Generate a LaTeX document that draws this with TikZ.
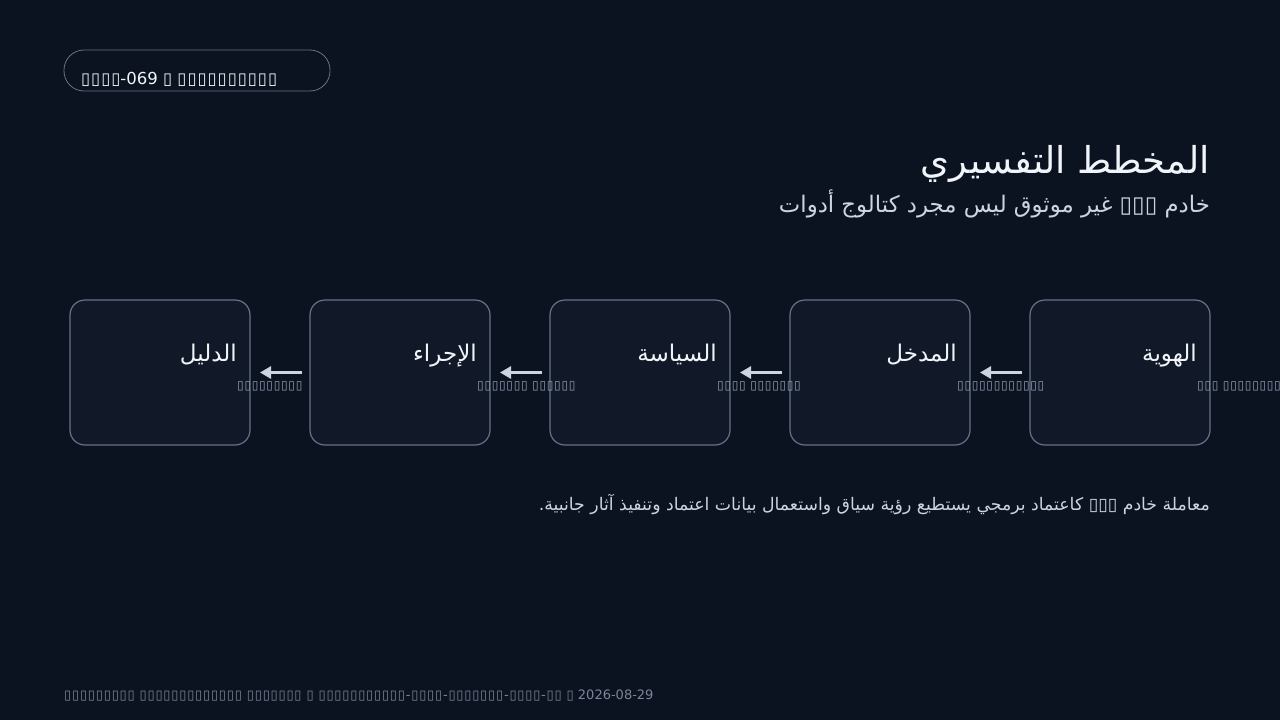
\documentclass[tikz,border=0pt]{standalone}
\usepackage{fontspec}
\setmainfont{DejaVu Sans}
\newfontfamily\arabicfont[Script=Arabic]{DejaVu Sans}
\newfontfamily\tofufont[LetterSpace=6]{DejaVu Sans}
\TeXXeTstate=1
\usetikzlibrary{positioning,arrows.meta}
\definecolor{pagebg}{HTML}{0B1220}
\definecolor{boxfill}{HTML}{111827}
\definecolor{boxline}{HTML}{64748B}
\definecolor{arrowgray}{HTML}{CBD5E1}
\definecolor{titlewhite}{HTML}{F1F5F9}
\definecolor{softgray}{HTML}{CBD5E1}
\definecolor{notegray}{HTML}{94A3B8}
\definecolor{footgray}{HTML}{7D8799}
\tikzstyle{flowarrow} = [line width=3.5pt,-{Triangle[length=11pt,width=12pt]},color=arrowgray,shorten <=8pt,shorten >=10pt]
\newcommand{\tf}[1]{{\tofufont #1}}

\begin{document}
\begin{tikzpicture}[x=1pt,y=-1pt,
    stagebox/.style={shape=rectangle,draw=boxline,fill=boxfill,line width=1.2pt,rounded corners=15pt,minimum width=180pt,minimum height=145pt,outer sep=0pt},
    stagetitle/.style={inner sep=0pt,text=titlewhite,font=\fontsize{23}{27}\selectfont},
    stagenote/.style={inner sep=0pt,text=notegray,font=\fontsize{12}{14}\selectfont},
    plaintext/.style={inner sep=0pt}]
    \fill[pagebg] (0,0) rectangle (1280,720);
    \useasboundingbox (0,0) rectangle (1280,720);
    % header
    \node (tag) [draw=boxline,line width=0.8pt,rounded corners=20pt,minimum width=266pt,minimum height=41pt] at (197,70.5) {};
    \node (tagtext) [plaintext,anchor=base west,text=titlewhite,font=\fontsize{16.5}{19}\selectfont] at (81,84) {\tf{▯▯▯▯}-069 \tf{▯} \tf{▯▯▯▯▯▯▯▯▯▯}};
    \node (title) [plaintext,anchor=base east,text=titlewhite,font=\fontsize{37}{44}\selectfont] at (1210,173) {\arabicfont\beginR المخطط التفسيري\endR};
    \node (subtitle) [plaintext,anchor=base east,text=softgray,font=\fontsize{22.8}{27}\selectfont] at (1210,212) {\arabicfont\beginR خادم ▯▯▯ غير موثوق ليس مجرد كتالوج أدوات\endR};
    % create the nodes
    \node (b1) [stagebox] at (160,372.5) {};
    \node (b2) [stagebox, right=60pt of b1] {};
    \node (b3) [stagebox, right=60pt of b2] {};
    \node (b4) [stagebox, right=60pt of b3] {};
    \node (b5) [stagebox, right=60pt of b4] {};
    \node (t1) [stagetitle, anchor=base east] at ([xshift=-13pt,yshift=11.5pt]b1.east) {\arabicfont\beginR الدليل\endR};
    \node (t2) [stagetitle, anchor=base east] at ([xshift=-13pt,yshift=11.5pt]b2.east) {\arabicfont\beginR الإجراء\endR};
    \node (t3) [stagetitle, anchor=base east] at ([xshift=-13pt,yshift=11.5pt]b3.east) {\arabicfont\beginR السياسة\endR};
    \node (t4) [stagetitle, anchor=base east] at ([xshift=-13pt,yshift=11.5pt]b4.east) {\arabicfont\beginR المدخل\endR};
    \node (t5) [stagetitle, anchor=base east] at ([xshift=-13pt,yshift=11.5pt]b5.east) {\arabicfont\beginR الهوية\endR};
    \node (s1) [stagenote, anchor=base west] at ([xshift=-13pt,yshift=-17pt]b1.east) {\tf{▯▯▯▯▯▯▯▯▯}};
    \node (s2) [stagenote, anchor=base west] at ([xshift=-13pt,yshift=-17pt]b2.east) {\tf{▯▯▯▯▯▯▯ ▯▯▯▯▯▯}};
    \node (s3) [stagenote, anchor=base west] at ([xshift=-13pt,yshift=-17pt]b3.east) {\tf{▯▯▯▯ ▯▯▯▯▯▯▯}};
    \node (s4) [stagenote, anchor=base west] at ([xshift=-13pt,yshift=-17pt]b4.east) {\tf{▯▯▯▯▯▯▯▯▯▯▯▯}};
    \node (s5) [stagenote, anchor=base west] at ([xshift=-13pt,yshift=-17pt]b5.east) {\tf{▯▯▯ ▯▯▯▯▯▯▯▯▯}};
    % connect the nodes
    \draw[flowarrow] (b5.west) -- (b4.east);
    \draw[flowarrow] (b4.west) -- (b3.east);
    \draw[flowarrow] (b3.west) -- (b2.east);
    \draw[flowarrow] (b2.west) -- (b1.east);
    % note and footer
    \node (note) [plaintext,anchor=base east,text=softgray,font=\fontsize{17.3}{21}\selectfont] at (1210,510) {\arabicfont\beginR معاملة خادم ▯▯▯ كاعتماد برمجي يستطيع رؤية سياق واستعمال بيانات اعتماد وتنفيذ آثار جانبية.\endR};
    \node (footer) [plaintext,anchor=base west,text=footgray,font=\fontsize{13}{16}\selectfont] at (64,699) {\tf{▯▯▯▯▯▯▯▯▯ ▯▯▯▯▯▯▯▯▯▯▯▯▯ ▯▯▯▯▯▯▯ ▯ ▯▯▯▯▯▯▯▯▯▯▯-▯▯▯▯-▯▯▯▯▯▯▯-▯▯▯▯-▯▯ ▯} 2026-08-29};
\end{tikzpicture}
\end{document}
